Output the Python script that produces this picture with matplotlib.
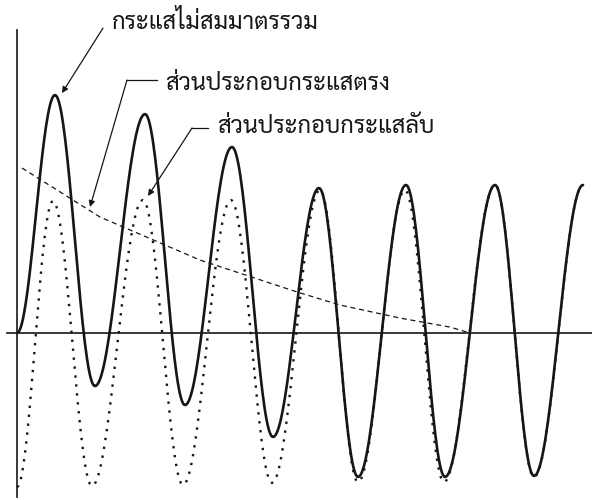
import numpy as np
import matplotlib
matplotlib.use("Agg")
import matplotlib.pyplot as plt
from matplotlib import font_manager

# time in cycles after the fault, current in per-unit of the steady AC peak
# turning points (time, value) of each waveform, one per half cycle
total_t = [0.0, 0.432, 0.886, 1.455, 1.909, 2.443, 2.909, 3.432, 3.875,
           4.420, 4.864, 5.432, 5.875, 6.432]
total_i = [0.0, 1.641, -0.366, 1.510, -0.497, 1.283, -0.717, 1.000, -0.993,
           1.021, -0.993, 1.021, -0.986, 1.021]

ac_t = [0.0, 0.409, 0.852, 1.432, 1.886, 2.432, 2.898, 3.443, 3.875,
        4.409, 4.852, 5.432, 5.875, 6.432]
ac_i = [-1.062, 0.910, -1.055, 0.917, -1.048, 0.917, -1.034, 0.986, -1.028,
        0.986, -1.028, 1.021, -0.993, 1.021]

# decaying DC offset
dc_t = [0.057, 0.943, 2.080, 3.182, 3.670, 4.352, 4.920, 5.148]
dc_i = [1.138, 0.800, 0.503, 0.283, 0.193, 0.103, 0.041, 0.0]

label_total = "กระแสไม่สมมาตรรวม"
label_dc = "ส่วนประกอบกระแสตรง"
label_ac = "ส่วนประกอบกระแสลับ"


def pick_thai_font():
    names = {f.name for f in font_manager.fontManager.ttflist}
    for name in ["Sarabun", "Niramit", "Noto Sans Thai", "Trirong"]:
        if name in names:
            return name
    return "DejaVu Sans"


def half_cosine(ts, ys, n=40):
    # join successive turning points with half-cosine arcs
    tt, yy = [], []
    s = np.linspace(0, 1, n)
    for k in range(len(ts) - 1):
        w = (1 - np.cos(np.pi * s)) / 2
        tt.append(ts[k] + (ts[k + 1] - ts[k]) * s)
        yy.append(ys[k] + (ys[k + 1] - ys[k]) * w)
    return np.concatenate(tt), np.concatenate(yy)


thai = pick_thai_font()
ink = "#161616"

fig = plt.figure(figsize=(5.92, 5.0), dpi=100)
ax = fig.add_axes((0, 0, 1, 1))
ax.set_xlim(-0.193, 6.534)
ax.set_ylim(-1.152, 2.297)
ax.axis("off")

# axes drawn by hand
ax.plot([0, 0], [-1.131, 2.09], color=ink, lw=1.2)
ax.plot([-0.114, 6.6], [0, 0], color=ink, lw=1.2)

t, y = half_cosine(ac_t, ac_i)
ax.plot(t, y, color=ink, lw=1.7, linestyle=(0, (1, 2.8)))

ax.plot(dc_t, dc_i, color=ink, lw=0.9, linestyle=(0, (4, 3)))

t, y = half_cosine(total_t, total_i)
ax.plot(t, y, color=ink, lw=1.9, solid_capstyle="round")

arrow = dict(arrowstyle="-|>", color=ink, lw=0.9, mutation_scale=9,
             shrinkA=0, shrinkB=0)
txt = dict(fontsize=16, family=[thai, "DejaVu Sans"], color=ink, va="baseline")

ax.annotate("", xy=(0.511, 1.655), xytext=(0.977, 2.103), arrowprops=arrow)
t1 = ax.text(1.080, 2.097, label_total, **txt)

ax.plot([1.250, 1.591], [1.745, 1.745], color=ink, lw=0.9)
ax.annotate("", xy=(0.830, 0.869), xytext=(1.250, 1.745), arrowprops=arrow)
t2 = ax.text(1.682, 1.676, label_dc, **txt)

ax.plot([1.989, 2.170], [1.414, 1.414], color=ink, lw=0.9)
ax.annotate("", xy=(1.489, 0.945), xytext=(1.989, 1.414), arrowprops=arrow)
t3 = ax.text(2.273, 1.379, label_ac, **txt)

# size the labels so they span the same width as in the printed figure
label_width_px = [201, 224, 223]
fig.canvas.draw()
r = fig.canvas.get_renderer()
drawn = sum(t.get_window_extent(r).width for t in (t1, t2, t3))
size = txt["fontsize"] * sum(label_width_px) / drawn
for t in (t1, t2, t3):
    t.set_fontsize(size)

fig.savefig("out.png", dpi=100, facecolor="white")
